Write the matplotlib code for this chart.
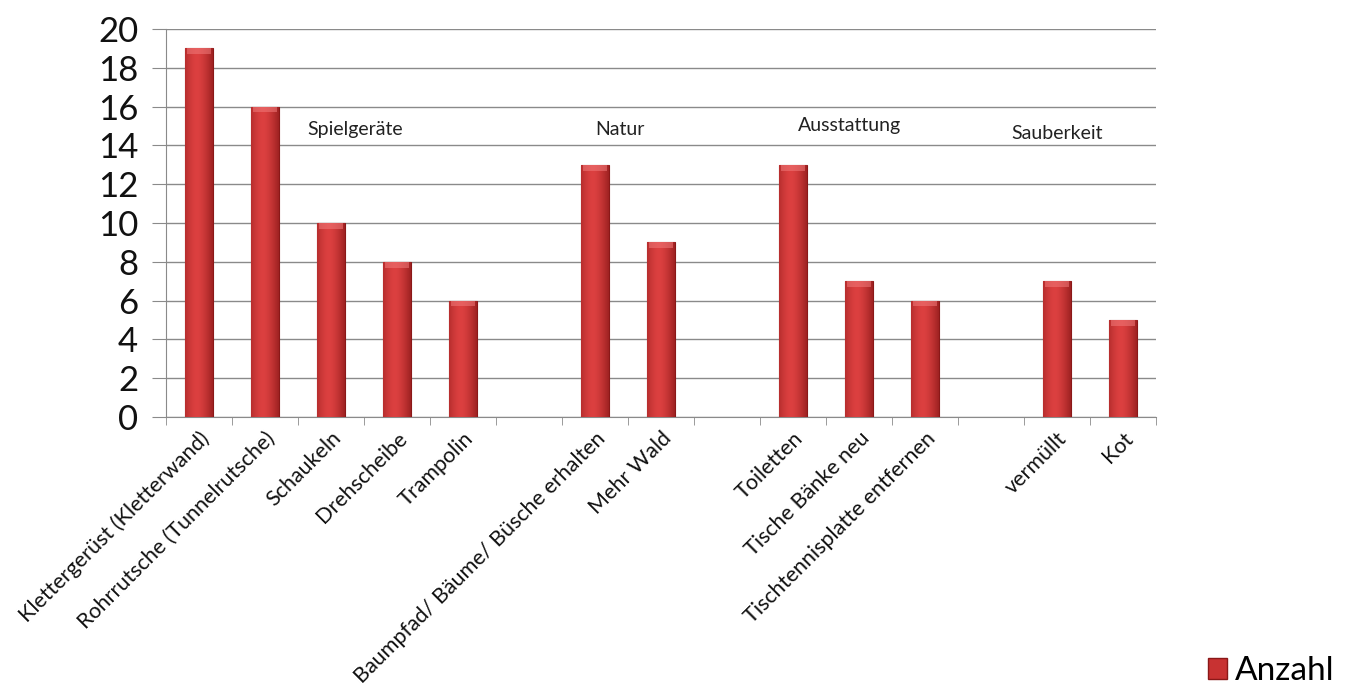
import matplotlib
matplotlib.use("Agg")
import matplotlib.pyplot as plt
import numpy as np
from matplotlib.patches import Patch
from matplotlib.colors import LinearSegmentedColormap

plt.rcParams['font.family'] = ['Lato', 'DejaVu Sans']

labels = ["Klettergerüst (Kletterwand)", "Rohrrutsche (Tunnelrutsche)", "Schaukeln",
          "Drehscheibe", "Trampolin", "", "Baumpfad/ Bäume/ Büsche erhalten", "Mehr Wald",
          "", "Toiletten", "Tische Bänke neu", "Tischtennisplatte entfernen", "",
          "vermüllt", "Kot"]
values = [19, 16, 10, 8, 6, np.nan, 13, 9, np.nan, 13, 7, 6, np.nan, 7, 5]
groups = ["Spielgeräte", "Natur", "Ausstattung", "Sauberkeit"]
group_pos = [(2.36, 14.8), (6.38, 14.8), (9.86, 15.0), (13.0, 14.6)]
yticks = [0, 2, 4, 6, 8, 10, 12, 14, 16, 18, 20]

fig = plt.figure(figsize=(13.56, 6.86), dpi=100)
ax = fig.add_axes([166/1356, 1-417/686, (1156-166)/1356, (417-29)/686])

x = np.arange(len(labels))
bars = ax.bar(x, values, width=0.41, color='#c83232', edgecolor='#8a1818', linewidth=0.8, zorder=3)

grad = np.linspace(0, 1, 64)
shade = 1 - 0.6 * (2 * np.abs(grad - 0.42)) ** 1.6
cmap = LinearSegmentedColormap.from_list('r', ['#8a1818', '#dc4040'])
img = shade.reshape(1, -1)
for b in bars:
    h = b.get_height()
    if np.isnan(h) or h == 0:
        continue
    x0 = b.get_x(); w = b.get_width()
    im = ax.imshow(img, extent=[x0, x0 + w, 0, h], aspect='auto', cmap=cmap,
                   vmin=0, vmax=1, zorder=3.5, interpolation='bicubic')
    im.set_clip_path(b)
    ax.bar(b.get_x() + w/2, 0.3, bottom=h - 0.3, width=w * 0.9, color='#f07a7a', alpha=0.55,
           linewidth=0, zorder=3.6)

ax.set_xlim(-0.5, len(labels) - 0.5)
ax.set_ylim(0, 20)
ax.set_yticks(yticks)
ax.set_yticklabels([str(v) for v in yticks], fontsize=25, color='#111111')
ax.yaxis.grid(True, color='#8a8a8a', linewidth=1.0, zorder=0)
ax.set_axisbelow(True)
ax.tick_params(axis='y', length=10, color='#8a8a8a', pad=10)

ax.set_xticks(x)
ax.set_xticklabels(labels, rotation=45, ha='right', rotation_mode='anchor', fontsize=15.5,
                   color='#111111')
ax.tick_params(axis='x', length=0, pad=8)
ax.set_xticks(np.arange(-0.5, len(labels) + 0.5, 1), minor=True)
ax.tick_params(axis='x', which='minor', length=6, color='#8a8a8a')

for s in ['top', 'right']:
    ax.spines[s].set_visible(False)
ax.spines['left'].set_color('#8a8a8a')
ax.spines['bottom'].set_color('#8a8a8a')

for g, (gx, gy) in zip(groups, group_pos):
    ax.text(gx, gy, g, ha='center', va='center', fontsize=14, color='#222222')

fig.legend(handles=[Patch(facecolor='#c83232', edgecolor='#8a1818')], labels=['Anzahl'],
           loc='lower right', bbox_to_anchor=(1338/1356, -0.005), frameon=False, fontsize=24,
           handlelength=0.55, handleheight=0.6, handletextpad=0.25, borderaxespad=0,
           borderpad=0.1)

fig.savefig('out.png', dpi=100)
